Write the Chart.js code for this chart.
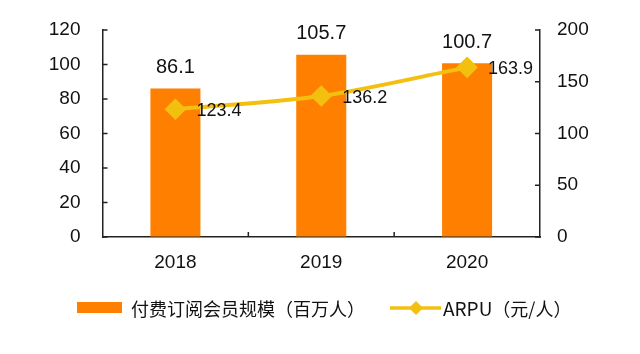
<!DOCTYPE html>
<html>
<head>
<meta charset="utf-8">
<script src="https://cdn.jsdelivr.net/npm/chart.js"></script>
<style>
  body { margin: 0; background: #fff; }
  #wrap { position: relative; width: 640px; height: 354px; }
  .lg { position: absolute; }
  .lg-text { font-family: "Liberation Sans Narrow", "Noto Sans CJK SC", sans-serif; font-size: 19px; line-height: 20px; color: #111; white-space: nowrap; top: 298px; }
</style>
</head>
<body>
<div id="wrap">
  <canvas id="myChart" width="640" height="354"></canvas>
  <div class="lg" style="left:77px; top:302px; width:45px; height:11px; background:#FF7F00;"></div>
  <div class="lg lg-text" style="left:131px; font-size:18px;">付费订阅会员规模（百万人）</div>
  <svg class="lg" style="left:390px; top:299px;" width="51" height="18"><line x1="0" y1="9" x2="51" y2="9" stroke="#F4C010" stroke-width="3.5"/><polygon points="26,2 33,9 26,16 19,9" fill="#F4C010"/></svg>
  <div class="lg lg-text" style="left:443px;">ARPU<span style="font-size:18px;">（元/人）</span></div>
</div>
<script>
    var years = ['2018', '2019', '2020'];
    var members = [86.1, 105.7, 100.7];   // 付费订阅会员规模（百万人）
    var arpu = [123.4, 136.2, 163.9];     // ARPU（元/人）

    var numFont = '"Liberation Sans Narrow", "Liberation Sans", sans-serif';

    // value labels + inward tick marks on all three axes
    var labelPlugin = {
        id: 'valueLabels',
        afterDatasetsDraw: function (chart) {
            var ctx = chart.ctx;
            var area = chart.chartArea;
            ctx.save();
            ctx.fillStyle = '#111';
            ctx.textBaseline = 'middle';

            var bars = chart.getDatasetMeta(0).data;
            ctx.font = '20px ' + numFont;
            ctx.textAlign = 'center';
            bars.forEach(function (b, i) {
                ctx.fillText(members[i].toFixed(1), b.x, b.y - 21);
            });

            var pts = chart.getDatasetMeta(1).data;
            ctx.font = '18px ' + numFont;
            ctx.textAlign = 'left';
            pts.forEach(function (p, i) {
                ctx.fillText(arpu[i].toFixed(1), p.x + 21, p.y + 2);
            });

            ctx.strokeStyle = '#222';
            ctx.lineWidth = 1.5;
            ctx.beginPath();
            var x = chart.scales.x;
            for (var k = 1; k < years.length; k++) {
                var px = (x.getPixelForValue(k - 1) + x.getPixelForValue(k)) / 2;
                ctx.moveTo(px, area.bottom);
                ctx.lineTo(px, area.bottom - 5);
            }
            chart.scales.y.ticks.forEach(function (t) {
                var py = chart.scales.y.getPixelForValue(t.value);
                ctx.moveTo(area.left, py);
                ctx.lineTo(area.left + 5, py);
            });
            chart.scales.y1.ticks.forEach(function (t) {
                var py = chart.scales.y1.getPixelForValue(t.value);
                ctx.moveTo(area.right, py);
                ctx.lineTo(area.right - 5, py);
            });
            ctx.stroke();
            ctx.restore();
        }
    };

    function fixY(width) {
        return function (s) {
            s.width = width;
            s.paddingTop = 0;
            s.paddingBottom = 0;
        };
    }

    var ctx = document.getElementById('myChart').getContext('2d');
    var chart = new Chart(ctx, {
        type: 'bar',
        data: {
            labels: years,
            datasets: [{
                type: 'bar',
                label: '付费订阅会员规模（百万人）',
                data: members,
                backgroundColor: '#FF7F00',
                categoryPercentage: 1,
                barPercentage: 0.343,
                yAxisID: 'y',
                order: 1
            }, {
                type: 'line',
                label: 'ARPU（元/人）',
                data: arpu,
                borderColor: '#F4C010',
                backgroundColor: '#F4C010',
                borderWidth: 4,
                tension: 0.3,
                pointStyle: 'rectRot',
                pointRadius: 8,
                pointHoverRadius: 8,
                yAxisID: 'y1',
                order: 0
            }]
        },
        options: {
            responsive: false,
            animation: false,
            layout: { padding: { top: 30, bottom: 77, left: 0, right: 0 } },
            plugins: {
                legend: { display: false },
                tooltip: { enabled: false }
            },
            scales: {
                x: {
                    grid: { display: false, drawTicks: false },
                    border: { display: true, color: '#222', width: 1.5 },
                    ticks: { color: '#111', font: { size: 19, family: numFont }, padding: 14 },
                    afterFit: function (s) { s.height = 40; }
                },
                y: {
                    position: 'left',
                    min: 0, max: 120,
                    ticks: { stepSize: 20, color: '#111', font: { size: 19, family: numFont }, padding: 22 },
                    grid: { drawOnChartArea: false, drawTicks: false },
                    border: { color: '#222', width: 1.5 },
                    afterFit: fixY(102.5)
                },
                y1: {
                    position: 'right',
                    min: 0, max: 200,
                    ticks: { stepSize: 50, color: '#111', font: { size: 19, family: numFont }, padding: 17 },
                    grid: { drawOnChartArea: false, drawTicks: false },
                    border: { color: '#222', width: 1.5 },
                    afterFit: fixY(100)
                }
            }
        },
        plugins: [labelPlugin]
    });
</script>
</body>
</html>
